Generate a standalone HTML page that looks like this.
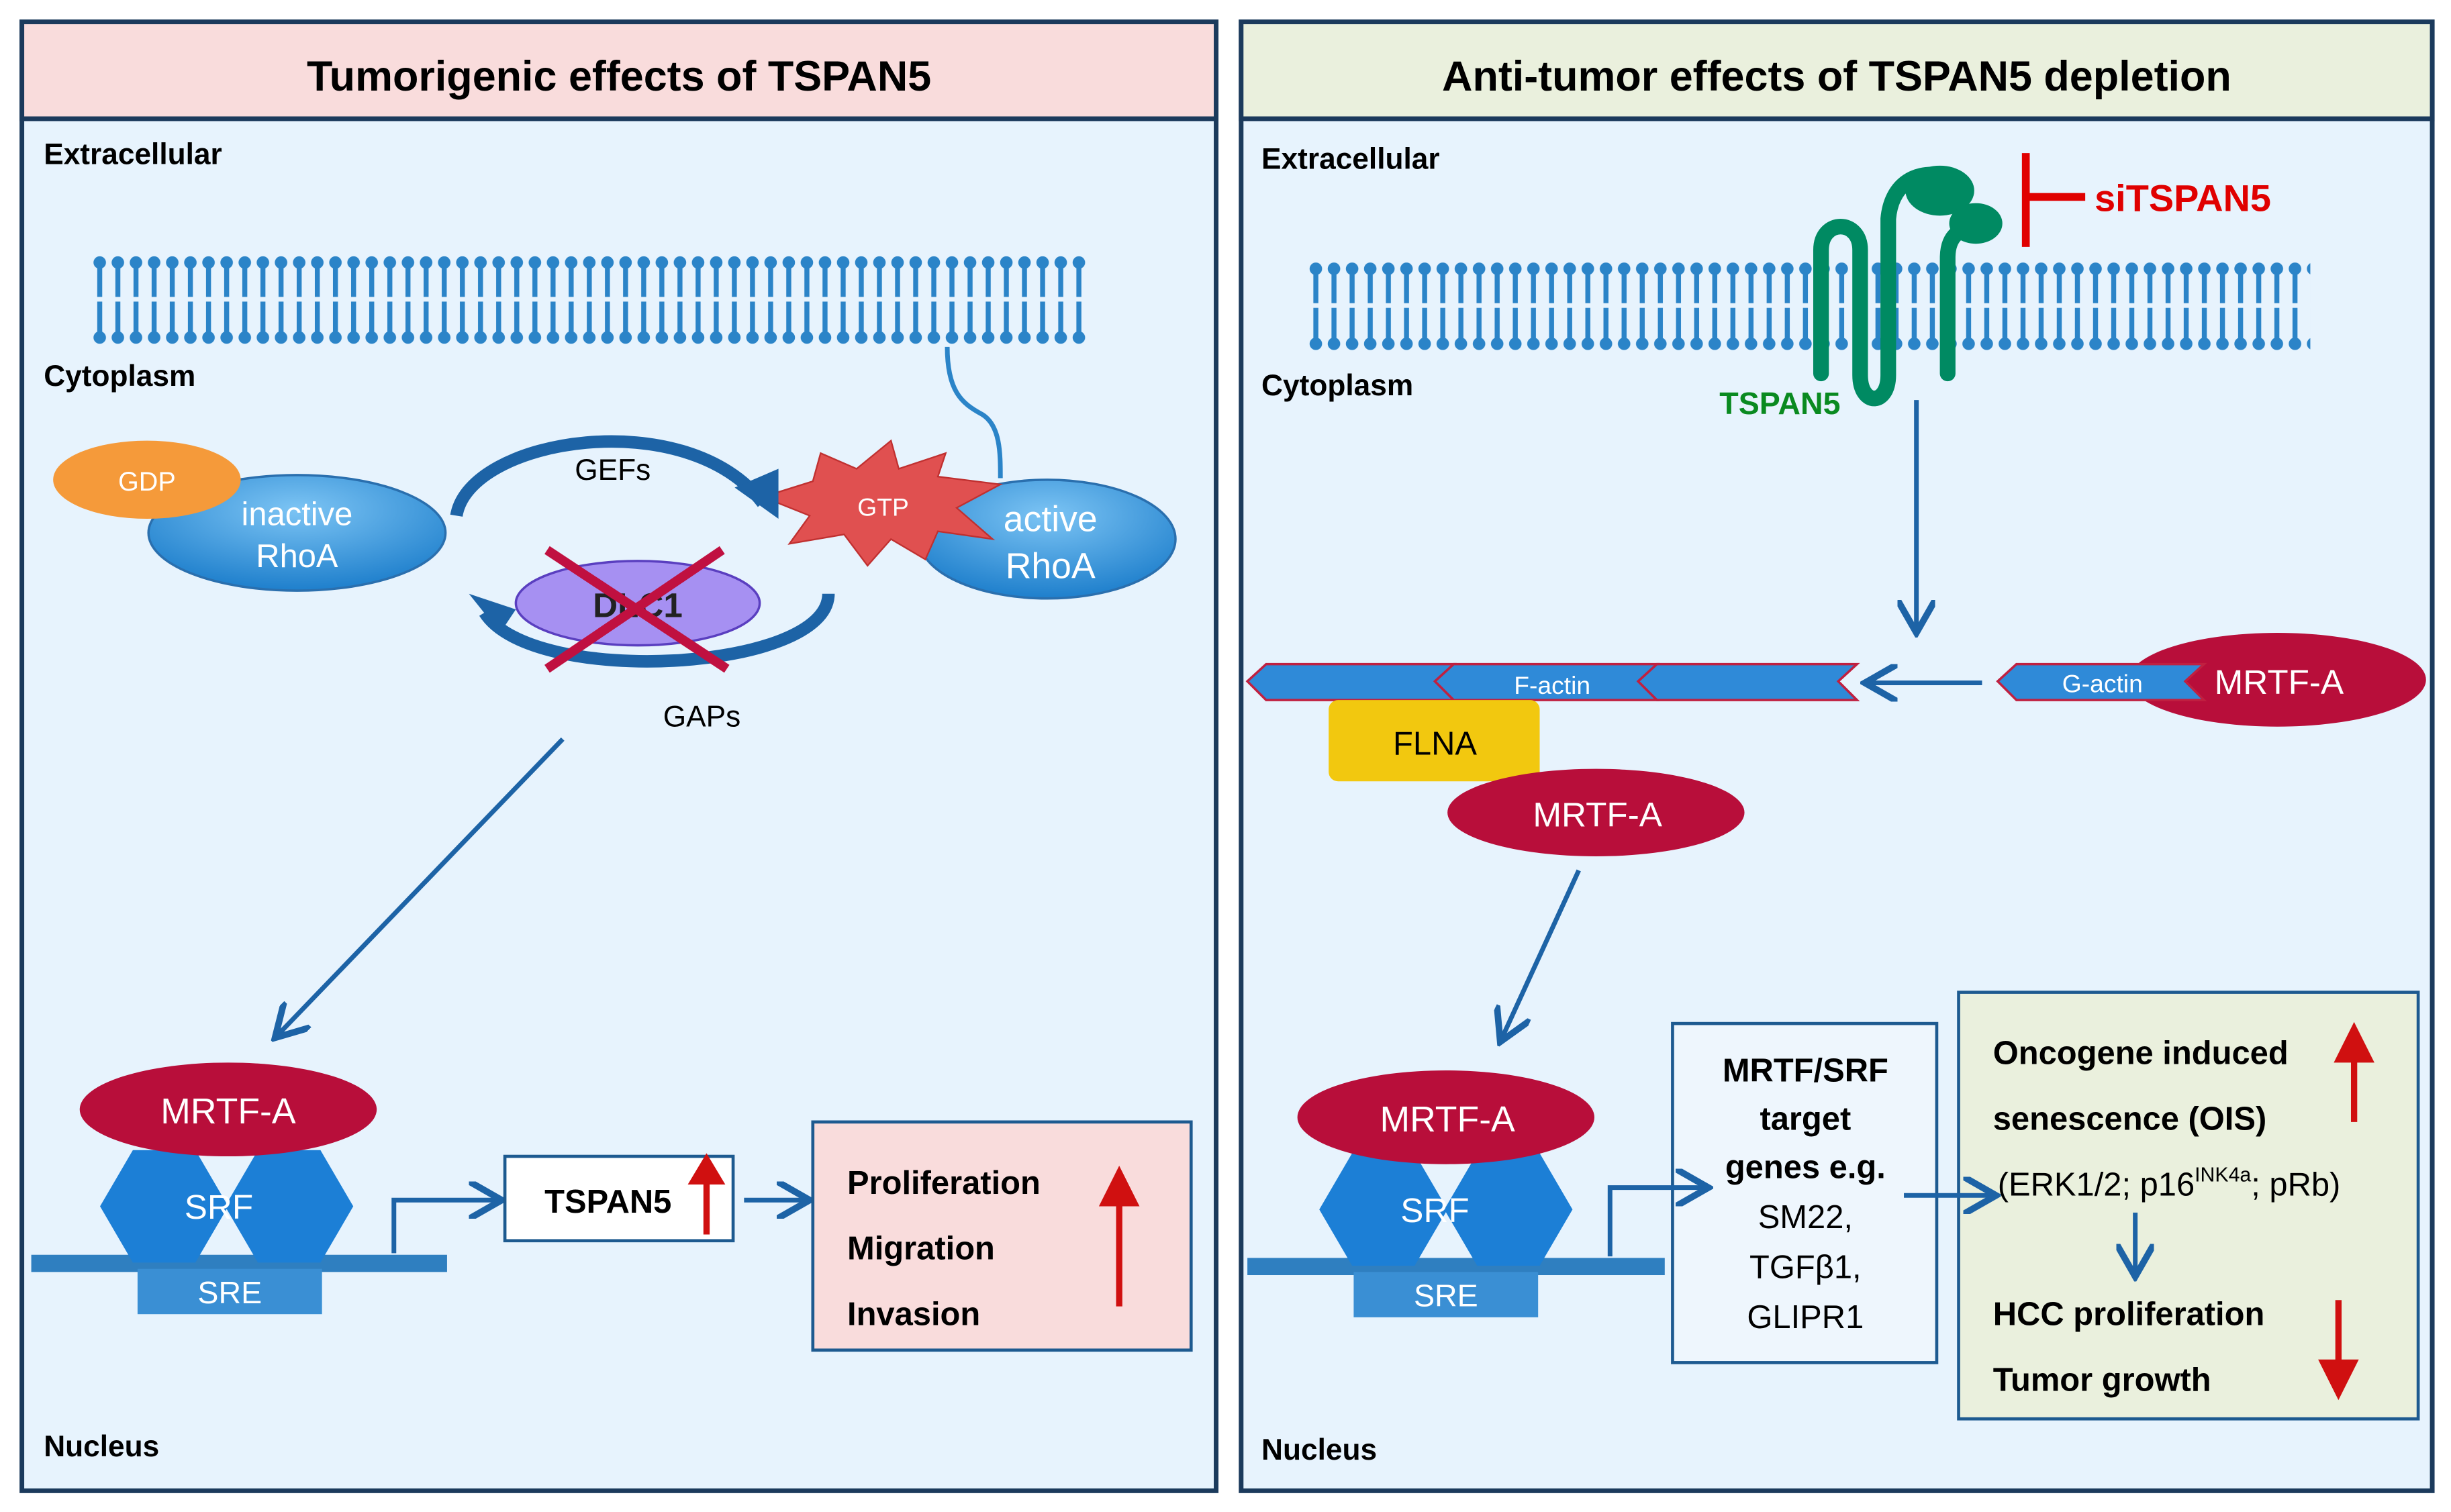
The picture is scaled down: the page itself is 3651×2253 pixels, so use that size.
<!DOCTYPE html>
<html><head><meta charset="utf-8"><style>
html,body{margin:0;padding:0;background:#fff;}
svg{display:block;}
text{font-family:"Liberation Sans",sans-serif;}
</style></head><body>
<svg width="3651" height="2253" viewBox="0 0 1568 967.6" xmlns="http://www.w3.org/2000/svg">
<defs>
<pattern id="lipL" x="58" y="160" width="11.6" height="64" patternUnits="userSpaceOnUse">
<circle cx="5.8" cy="8" r="4" fill="#2b84c8"/><line x1="5.8" y1="8" x2="5.8" y2="30" stroke="#2b84c8" stroke-width="3.2"/>
<line x1="5.8" y1="33" x2="5.8" y2="56" stroke="#2b84c8" stroke-width="3.2"/><circle cx="5.8" cy="56" r="4" fill="#2b84c8"/>
</pattern>
<pattern id="lipR" x="836" y="164" width="11.6" height="64" patternUnits="userSpaceOnUse">
<circle cx="5.8" cy="8" r="4" fill="#2b84c8"/><line x1="5.8" y1="8" x2="5.8" y2="30" stroke="#2b84c8" stroke-width="3.2"/>
<line x1="5.8" y1="33" x2="5.8" y2="56" stroke="#2b84c8" stroke-width="3.2"/><circle cx="5.8" cy="56" r="4" fill="#2b84c8"/>
</pattern>
<radialGradient id="blue" cx="50%" cy="30%" r="70%"><stop offset="0" stop-color="#7cc4f4"/><stop offset="1" stop-color="#1e7fcc"/></radialGradient>
<marker id="ah" markerWidth="8" markerHeight="8" refX="6" refY="4" orient="auto" markerUnits="strokeWidth"><path d="M0,0 L7,4 L0,8" fill="none" stroke="#1d63a6" stroke-width="1.4"/></marker>
</defs>

<!-- Left panel -->
<rect x="14" y="14" width="764" height="940" fill="#e7f3fd" stroke="#1b3a5c" stroke-width="3"/>
<rect x="14" y="14" width="764" height="62" fill="#f9dcdc" stroke="#1b3a5c" stroke-width="3"/>
<text x="396" y="58" text-anchor="middle" font-size="27" font-weight="bold">Tumorigenic effects of TSPAN5</text>
<text x="28" y="105" font-size="19" font-weight="bold">Extracellular</text>
<text x="28" y="247" font-size="19" font-weight="bold">Cytoplasm</text>
<text x="28" y="932" font-size="19" font-weight="bold">Nucleus</text>
<rect x="58" y="160" width="638" height="64" fill="url(#lipL)"/>
<path d="M606,222 C606,250 615,258 628,265 C640,272 640,290 640,306" fill="none" stroke="#2b84c8" stroke-width="3"/>

<ellipse cx="190" cy="341" rx="95" ry="37" fill="url(#blue)" stroke="#2a6fae" stroke-width="1.5"/>
<ellipse cx="94" cy="307" rx="60" ry="25" fill="#f59a3a"/>
<text x="94" y="314" text-anchor="middle" font-size="17" fill="#fff">GDP</text>
<text x="190" y="336" text-anchor="middle" font-size="21" fill="#fff">inactive</text>
<text x="190" y="363" text-anchor="middle" font-size="21" fill="#fff">RhoA</text>

<ellipse cx="670" cy="345" rx="82" ry="38" fill="url(#blue)" stroke="#2a6fae" stroke-width="1.5"/>
<text x="672" y="340" text-anchor="middle" font-size="23" fill="#fff">active</text>
<text x="672" y="370" text-anchor="middle" font-size="23" fill="#fff">RhoA</text>
<polygon points="488,318 520,308 525,290 548,300 570,282 575,300 605,290 600,305 640,310 612,325 635,345 600,340 592,358 570,345 555,362 540,342 505,348 518,330" fill="#e05050" stroke="#c03030" stroke-width="1"/>
<text x="565" y="330" text-anchor="middle" font-size="16" fill="#fff">GTP</text>

<path d="M292,330 C300,280 440,258 488,322" fill="none" stroke="#1d63a6" stroke-width="8"/>
<polygon points="470,312 498,332 498,300" fill="#1d63a6"/>
<text x="392" y="307" text-anchor="middle" font-size="19">GEFs</text>
<ellipse cx="408" cy="386" rx="78" ry="27" fill="#a690f2" stroke="#5a3fc0" stroke-width="1.5"/>
<text x="408" y="395" text-anchor="middle" font-size="22" font-weight="bold" fill="#222">DLC1</text>
<path d="M530,380 C530,430 340,440 310,392" fill="none" stroke="#1d63a6" stroke-width="8"/>
<polygon points="300,380 330,390 320,405" fill="#1d63a6"/>
<line x1="350" y1="352" x2="465" y2="428" stroke="#c01040" stroke-width="6"/>
<line x1="462" y1="352" x2="350" y2="428" stroke="#c01040" stroke-width="6"/>
<text x="449" y="465" text-anchor="middle" font-size="19">GAPs</text>

<line x1="360" y1="473" x2="178" y2="662" stroke="#1d63a6" stroke-width="3" marker-end="url(#ah)"/>

<rect x="20" y="803" width="266" height="11" fill="#2f7fc0"/>
<rect x="88" y="812" width="118" height="29" fill="#3a8fd4"/>
<text x="147" y="834" text-anchor="middle" font-size="20" fill="#fff">SRE</text>
<polygon points="85,736 125,736 146,772 125,808 85,808 64,772" fill="#1c7fd6"/>
<polygon points="165,736 205,736 226,772 205,808 165,808 144,772" fill="#1c7fd6"/>
<text x="140" y="780" text-anchor="middle" font-size="22" fill="#fff">SRF</text>
<ellipse cx="146" cy="710" rx="95" ry="30" fill="#b80e3a"/>
<text x="146" y="719" text-anchor="middle" font-size="23" fill="#fff">MRTF-A</text>
<polyline points="252,802 252,768 318,768" fill="none" stroke="#1d63a6" stroke-width="3" marker-end="url(#ah)"/>
<rect x="323" y="740" width="146" height="54" fill="#fff" stroke="#1d5a90" stroke-width="2"/>
<text x="389" y="776" text-anchor="middle" font-size="21" font-weight="bold">TSPAN5</text>
<line x1="452" y1="790" x2="452" y2="746" stroke="#d01010" stroke-width="4"/><polygon points="440,758 452,738 464,758" fill="#d01010"/>
<line x1="476" y1="768" x2="515" y2="768" stroke="#1d63a6" stroke-width="3" marker-end="url(#ah)"/>
<rect x="520" y="718" width="242" height="146" fill="#f9dcdc" stroke="#1d5a90" stroke-width="2"/>
<text x="542" y="764" font-size="21" font-weight="bold">Proliferation</text>
<text x="542" y="806" font-size="21" font-weight="bold">Migration</text>
<text x="542" y="848" font-size="21" font-weight="bold">Invasion</text>
<line x1="716" y1="836" x2="716" y2="762" stroke="#d01010" stroke-width="4"/><polygon points="703,772 716,746 729,772" fill="#d01010"/>

<!-- Right panel -->
<rect x="794" y="14" width="762" height="940" fill="#e7f3fd" stroke="#1b3a5c" stroke-width="3"/>
<rect x="794" y="14" width="762" height="62" fill="#eaf0dd" stroke="#1b3a5c" stroke-width="3"/>
<text x="1175" y="58" text-anchor="middle" font-size="27" font-weight="bold">Anti-tumor effects of TSPAN5 depletion</text>
<text x="807" y="108" font-size="19" font-weight="bold">Extracellular</text>
<text x="807" y="253" font-size="19" font-weight="bold">Cytoplasm</text>
<text x="807" y="934" font-size="19" font-weight="bold">Nucleus</text>
<rect x="836" y="164" width="642" height="64" fill="url(#lipR)"/>
<g fill="none" stroke="#008a62" stroke-width="10" stroke-linecap="round">
<path d="M1165,239 L1165,160 C1165,140 1190,140 1190,160 L1190,240 C1190,260 1208,260 1208,240 L1208,140 C1210,118 1225,110 1240,112"/>
<path d="M1246,239 L1246,165 C1246,150 1255,145 1265,146"/>
</g>
<ellipse cx="1241" cy="122" rx="22" ry="16" fill="#008a62"/>
<ellipse cx="1264" cy="143" rx="17" ry="13" fill="#008a62"/>
<text x="1100" y="265" font-size="20" font-weight="bold" fill="#0a8a20">TSPAN5</text>
<line x1="1296" y1="98" x2="1296" y2="158" stroke="#e00000" stroke-width="5"/>
<line x1="1296" y1="126" x2="1334" y2="126" stroke="#e00000" stroke-width="5"/>
<text x="1340" y="135" font-size="24" font-weight="bold" fill="#e00000">siTSPAN5</text>
<line x1="1226" y1="256" x2="1226" y2="402" stroke="#1d63a6" stroke-width="3" marker-end="url(#ah)"/>

<g fill="#2f8ad8" stroke="#c02040" stroke-width="1.5">
<polygon points="798,436 810,425 930,425 918,436 930,448 810,448"/>
<polygon points="918,436 930,425 1060,425 1048,436 1060,448 930,448"/>
<polygon points="1048,436 1060,425 1188,425 1176,436 1188,448 1060,448"/>
</g>
<text x="993" y="444" text-anchor="middle" font-size="16" fill="#fff">F-actin</text>
<line x1="1268" y1="437" x2="1196" y2="437" stroke="#1d63a6" stroke-width="3" marker-end="url(#ah)"/>
<ellipse cx="1457" cy="435" rx="95" ry="30" fill="#b80e3a"/>
<polygon points="1278,436 1290,425 1410,425 1398,436 1410,448 1290,448" fill="#2f8ad8" stroke="#c02040" stroke-width="1.5"/>
<text x="1345" y="443" text-anchor="middle" font-size="16" fill="#fff">G-actin</text>
<text x="1458" y="444" text-anchor="middle" font-size="22" fill="#fff">MRTF-A</text>
<rect x="850" y="448" width="135" height="52" rx="6" fill="#f2c80f"/>
<text x="918" y="483" text-anchor="middle" font-size="21">FLNA</text>
<ellipse cx="1021" cy="520" rx="95" ry="28" fill="#b80e3a"/>
<text x="1022" y="529" text-anchor="middle" font-size="22" fill="#fff">MRTF-A</text>
<line x1="1010" y1="557" x2="961" y2="664" stroke="#1d63a6" stroke-width="3" marker-end="url(#ah)"/>

<rect x="798" y="805" width="267" height="11" fill="#2f7fc0"/>
<rect x="866" y="814" width="118" height="29" fill="#3a8fd4"/>
<text x="925" y="836" text-anchor="middle" font-size="20" fill="#fff">SRE</text>
<polygon points="865,738 905,738 926,774 905,810 865,810 844,774" fill="#1c7fd6"/>
<polygon points="945,738 985,738 1006,774 985,810 945,810 924,774" fill="#1c7fd6"/>
<text x="918" y="782" text-anchor="middle" font-size="22" fill="#fff">SRF</text>
<ellipse cx="925" cy="715" rx="95" ry="30" fill="#b80e3a"/>
<text x="926" y="724" text-anchor="middle" font-size="23" fill="#fff">MRTF-A</text>
<rect x="1070" y="655" width="169" height="217" fill="#eef6fd" stroke="#1d5a90" stroke-width="2"/>
<g text-anchor="middle" font-size="21">
<text x="1155" y="692" font-weight="bold">MRTF/SRF</text>
<text x="1155" y="723" font-weight="bold">target</text>
<text x="1155" y="754" font-weight="bold">genes e.g.</text>
<text x="1155" y="786">SM22,</text>
<text x="1155" y="818">TGFβ1,</text>
<text x="1155" y="850">GLIPR1</text>
</g>
<rect x="1253" y="635" width="294" height="273" fill="#eaf0dd" stroke="#1d5a90" stroke-width="2"/>
<polyline points="1030,804 1030,760 1090,760" fill="none" stroke="#1d63a6" stroke-width="3" marker-end="url(#ah)"/>
<line x1="1218" y1="765" x2="1274" y2="765" stroke="#1d63a6" stroke-width="3" marker-end="url(#ah)"/>
<text x="1275" y="681" font-size="21" font-weight="bold">Oncogene induced</text>
<text x="1275" y="723" font-size="21" font-weight="bold">senescence (OIS)</text>
<text x="1278" y="765" font-size="21">(ERK1/2; p16<tspan font-size="13" dy="-9">INK4a</tspan><tspan dy="9">; pRb)</tspan></text>
<line x1="1366" y1="776" x2="1366" y2="814" stroke="#1d63a6" stroke-width="3" marker-end="url(#ah)"/>
<text x="1275" y="848" font-size="21" font-weight="bold">HCC proliferation</text>
<text x="1275" y="890" font-size="21" font-weight="bold">Tumor growth</text>
<line x1="1506" y1="718" x2="1506" y2="670" stroke="#d01010" stroke-width="4"/><polygon points="1493,680 1506,654 1519,680" fill="#d01010"/>
<line x1="1496" y1="832" x2="1496" y2="880" stroke="#d01010" stroke-width="4"/><polygon points="1483,870 1496,896 1509,870" fill="#d01010"/>
</svg>
</body></html>
